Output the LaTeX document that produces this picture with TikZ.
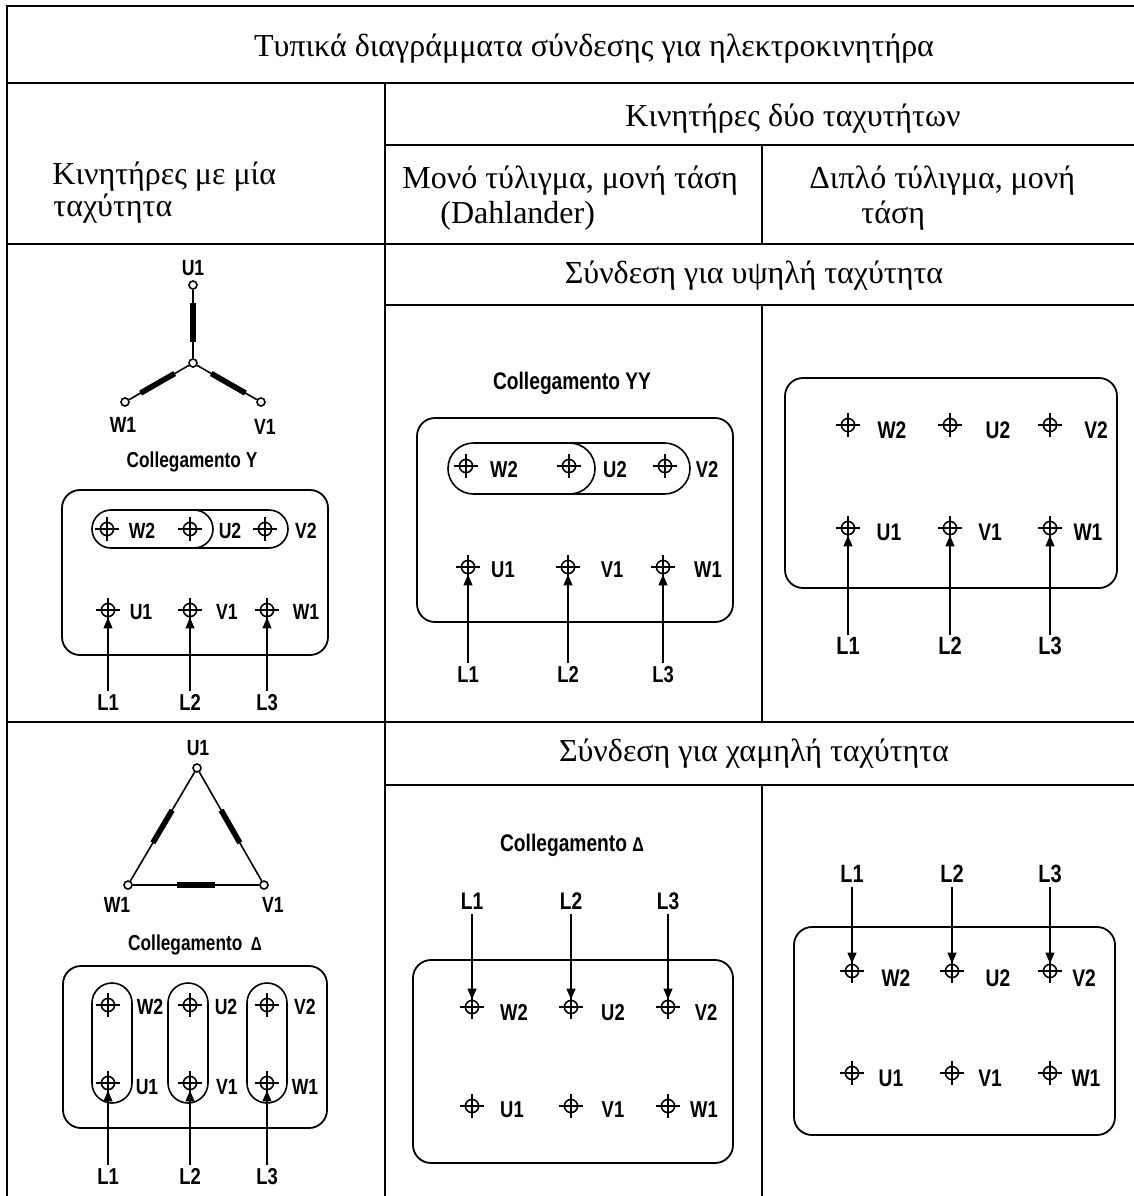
\documentclass[tikz,border=0pt]{standalone}
\usepackage{fontspec}
\setmainfont{Liberation Serif}
\newfontfamily\condfont[FakeStretch=0.8]{Liberation Sans}
\usetikzlibrary{positioning,calc,arrows.meta}

\begin{document}
\begin{tikzpicture}[x=0.5pt, y=-0.5pt]
	\tikzset{grid/.style={line width=1pt},
			head/.style={font=\fontsize{16}{18}\selectfont,
				inner sep=0pt},
			conn/.style={font=\condfont\bfseries\fontsize{#1}{14}\selectfont,
				inner sep=0pt},
			conn/.default=12,
			lbl/.style={font=\condfont\bfseries\fontsize{#1}{12}\selectfont,
				text height=1.6ex,
				text depth=0pt,
				inner sep=0pt},
			lbl/.default=11,
			phase/.style={font=\condfont\bfseries\fontsize{#1}{12}\selectfont,
				text height=1.6ex,
				text depth=0pt,
				inner sep=2pt},
			phase/.default=11.5,
			box/.style={draw,
				line width=0.9pt,
				rounded corners=9pt},
			link/.style={draw,
				line width=0.8pt},
			term/.style={circle,
				draw,
				line width=0.8pt,
				inner sep=0pt,
				minimum size=6.6pt,
				append after command={([yshift=2.4pt]\tikzlastnode.north) edge[line width=0.8pt] ([yshift=-2.4pt]\tikzlastnode.south)
					([xshift=-2.4pt]\tikzlastnode.west) edge[line width=0.8pt] ([xshift=2.4pt]\tikzlastnode.east)}},
			dot/.style={circle,
				draw,
				fill=white,
				line width=0.8pt,
				inner sep=0pt,
				minimum size=4pt},
			wire/.style={line width=0.8pt},
			coil/.style={line width=2.8pt},
			arrow/.style={-{Triangle[length=5.5pt, width=4.4pt]},
				line width=0.9pt}}
	\path[fill=white, use as bounding box] (0,0) rectangle (1134,1196);

	% Table
	\draw[grid] (1134,6) -- (7,6) -- (7,1196);
	\draw[grid] (7,83) -- (1134,83);
	\draw[grid] (7,244) -- (1134,244);
	\draw[grid] (7,722) -- (1134,722);
	\draw[grid] (385,145) -- (1134,145);
	\draw[grid] (385,305) -- (1134,305);
	\draw[grid] (385,785) -- (1134,785);
	\draw[grid] (385,83) -- (385,1196);
	\draw[grid] (762,145) -- (762,244);
	\draw[grid] (762,305) -- (762,722);
	\draw[grid] (762,785) -- (762,1196);

	% Headings
	\node[head, anchor=base] (title) at (594,56) {Τυπικά διαγράμματα σύνδεσης για ηλεκτροκινητήρα};
	\node[head, anchor=base west] (one) at (52,184) {Κινητήρες με μία};
	\node[head, anchor=base west] (one2) at (53,216) {ταχύτητα};
	\node[head, anchor=base] (two) at (793,126) {Κινητήρες δύο ταχυτήτων};
	\node[head, anchor=base west] (dahl) at (402,188) {Μονό τύλιγμα, μονή τάση};
	\node[head, anchor=base west] (dahl2) at (440,223) {(Dahlander)};
	\node[head, anchor=base west] (dbl) at (809,188) {Διπλό τύλιγμα, μονή};
	\node[head, anchor=base west] (dbl2) at (861,223) {τάση};
	\node[head, anchor=base] (high) at (754,283) {Σύνδεση για υψηλή ταχύτητα};
	\node[head, anchor=base] (low) at (754,761) {Σύνδεση για χαμηλή ταχύτητα};

	% Single speed, star
	\node[dot] (ysc) at (193,363) {};
	\node[dot] (ysu) at (193,285) {};
	\node[dot] (ysw) at (125,402) {};
	\node[dot] (ysv) at (261,402) {};
	\node[lbl] (ysu-l) at (193,268) {U1};
	\node[lbl] (ysw-l) at (123,425) {W1};
	\node[lbl] (ysv-l) at (265,427) {V1};
	\foreach \e in {ysu,ysw,ysv} {
		\draw[wire] (ysc) -- (\e);
		\draw[coil] ($(ysc)!0.27!(\e)$) -- ($(ysc)!0.77!(\e)$);
	}
	\node[conn=10.8] (ysname) at (192,462) {Collegamento Y};
	\draw[box] (62,490) rectangle (328,655);
	\draw[link, rounded corners=9.5pt] (92,510) rectangle (213,548);
	\draw[link, rounded corners=9.5pt] (194,510) -- (288,510) -- (288,548) -- (194,548);
	\foreach \n/\tx/\lx in {W2/107/142, U2/190/230, V2/265/306} {
		\node[term] (ys\n) at (\tx,529) {};
		\node[lbl] (ys\n-l) at (\lx,531) {\n};
	}
	\foreach \n/\tx/\lx/\p in {U1/108/141/L1, V1/190/227/L2, W1/267/306/L3} {
		\node[term] (ys\n) at (\tx,610) {};
		\node[lbl] (ys\n-l) at (\lx,612) {\n};
		\node[phase] (ys\p) at (\tx,703) {\p};
		\draw[arrow] (ys\p) -- (ys\n);
	}

	% Single speed, delta
	\node[dot] (dsu) at (197,768) {};
	\node[dot] (dsw) at (128,885) {};
	\node[dot] (dsv) at (264,885) {};
	\node[lbl] (dsu-l) at (198,748) {U1};
	\node[lbl] (dsw-l) at (117,905) {W1};
	\node[lbl] (dsv-l) at (273,905) {V1};
	\foreach \a/\b in {dsw/dsu, dsu/dsv, dsw/dsv} {
		\draw[wire] (\a) -- (\b);
		\draw[coil] ($(\a)!0.36!(\b)$) -- ($(\a)!0.64!(\b)$);
	}
	\node[conn=10.8] (dsname) at (195,945) {Collegamento\, {\fontsize{9.5}{8}\selectfont Δ}};
	\draw[box] (63,966) rectangle (327,1128);
	\foreach \x in {92,168,247}
		\draw[link, rounded corners=10pt] (\x,983) rectangle ++(40,120);
	\foreach \n/\tx/\lx in {W2/108/150, U2/190/226, V2/267/305} {
		\node[term] (ds\n) at (\tx,1005) {};
		\node[lbl] (ds\n-l) at (\lx,1007) {\n};
	}
	\foreach \n/\tx/\lx/\p in {U1/108/147/L1, V1/190/227/L2, W1/267/305/L3} {
		\node[term] (ds\n) at (\tx,1083) {};
		\node[lbl] (ds\n-l) at (\lx,1087) {\n};
		\node[phase] (ds\p) at (\tx,1177) {\p};
		\draw[arrow] (ds\p) -- (ds\n);
	}

	% Dahlander, high speed
	\node[conn] (yyname) at (572,383) {Collegamento YY};
	\draw[box] (417,418) rectangle (733,622);
	\draw[link, rounded corners=12.75pt] (448,443) rectangle (595,494);
	\draw[link, rounded corners=12.75pt] (570,443) -- (690,443) -- (690,494) -- (570,494);
	\foreach \n/\tx/\lx in {W2/466/504, U2/569/615, V2/665/707} {
		\node[term] (yy\n) at (\tx,466) {};
		\node[lbl=11.5] (yy\n-l) at (\lx,470) {\n};
	}
	\foreach \n/\tx/\lx/\p in {U1/468/503/L1, V1/568/612/L2, W1/663/708/L3} {
		\node[term] (yy\n) at (\tx,567) {};
		\node[lbl=11.5] (yy\n-l) at (\lx,570) {\n};
		\node[phase] (yy\p) at (\tx,675) {\p};
		\draw[arrow] (yy\p) -- (yy\n);
	}

	% Two windings, high speed
	\draw[box] (785,378) rectangle (1117,588);
	\foreach \n/\tx/\lx in {W2/848/892, U2/950/998, V2/1050/1096} {
		\node[term] (th\n) at (\tx,425) {};
		\node[lbl=12] (th\n-l) at (\lx,431) {\n};
	}
	\foreach \n/\tx/\lx/\p in {U1/848/889/L1, V1/950/990/L2, W1/1050/1088/L3} {
		\node[term] (th\n) at (\tx,528) {};
		\node[lbl=12] (th\n-l) at (\lx,533) {\n};
		\node[phase=12.5] (th\p) at (\tx,647) {\p};
		\draw[arrow] (th\p) -- (th\n);
	}

	% Dahlander, low speed
	\node[conn] (dlname) at (572,845) {Collegamento {\fontsize{10}{8}\selectfont Δ}};
	\draw[box] (413,960) rectangle (733,1163);
	\foreach \n/\tx/\lx/\p in {W2/472/514/L1, U2/571/613/L2, V2/668/706/L3} {
		\node[term] (dl\n) at (\tx,1007) {};
		\node[lbl=11.5] (dl\n-l) at (\lx,1013) {\n};
		\node[phase=12] (dl\p) at (\tx,902) {\p};
		\draw[arrow] (dl\p) -- (dl\n);
	}
	\foreach \n/\tx/\lx in {U1/472/512, V1/571/613, W1/668/704} {
		\node[term] (dl\n) at (\tx,1106) {};
		\node[lbl=11.5] (dl\n-l) at (\lx,1110) {\n};
	}

	% Two windings, low speed
	\draw[box] (794,927) rectangle (1115,1135);
	\foreach \n/\tx/\lx/\p in {W2/852/896/L1, U2/952/998/L2, V2/1050/1084/L3} {
		\node[term] (tl\n) at (\tx,971) {};
		\node[lbl=12] (tl\n-l) at (\lx,979) {\n};
		\node[phase=12.5] (tl\p) at (\tx,875) {\p};
		\draw[arrow] (tl\p) -- (tl\n);
	}
	\foreach \n/\tx/\lx in {U1/852/891, V1/952/990, W1/1050/1086} {
		\node[term] (tl\n) at (\tx,1073) {};
		\node[lbl=12] (tl\n-l) at (\lx,1079) {\n};
	}
\end{tikzpicture}
\end{document}
